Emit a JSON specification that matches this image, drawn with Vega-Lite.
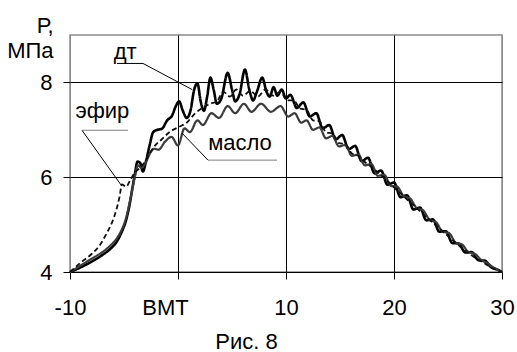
{
  "$schema": "https://vega.github.io/schema/vega-lite/v6.json",
  "width": 432,
  "height": 237,
  "autosize": "none",
  "padding": {"left": 70, "top": 35, "right": 15, "bottom": 80},
  "background": "white",
  "config": {
    "font": "Liberation Sans",
    "view": {"stroke": "#8c8c8c", "strokeWidth": 1.5},
    "axis": {"labelColor": "black", "titleColor": "black", "tickColor": "black", "gridColor": "black", "gridWidth": 1, "domain": false, "labelFontSize": 22, "titleFontSize": 22, "titleFontWeight": "normal", "tickSize": 7}
  },
  "datasets": {
    "curves": [
      {"s":"дт","x":-10,"y":4.0},{"s":"дт","x":-9,"y":4.1},{"s":"дт","x":-8,"y":4.22},{"s":"дт","x":-7,"y":4.36},{"s":"дт","x":-6.3,"y":4.48},{"s":"дт","x":-5.7,"y":4.63},{"s":"дт","x":-5.2,"y":4.85},{"s":"дт","x":-4.8,"y":5.1},{"s":"дт","x":-4.5,"y":5.4},{"s":"дт","x":-4.25,"y":5.73},{"s":"дт","x":-4.0,"y":6.05},{"s":"дт","x":-3.75,"y":6.33},{"s":"дт","x":-3.5,"y":6.3},{"s":"дт","x":-3.25,"y":6.12},{"s":"дт","x":-2.95,"y":6.35},{"s":"дт","x":-2.6,"y":6.7},{"s":"дт","x":-2.3,"y":6.95},{"s":"дт","x":-1.9,"y":7.0},{"s":"дт","x":-1.5,"y":7.02},{"s":"дт","x":-1.0,"y":7.2},{"s":"дт","x":-0.55,"y":7.3},{"s":"дт","x":-0.2,"y":7.5},{"s":"дт","x":0.1,"y":7.6},{"s":"дт","x":0.45,"y":7.4},{"s":"дт","x":0.8,"y":7.25},{"s":"дт","x":1.15,"y":7.4},{"s":"дт","x":1.5,"y":7.85},{"s":"дт","x":1.8,"y":7.98},{"s":"дт","x":2.1,"y":7.6},{"s":"дт","x":2.4,"y":7.4},{"s":"дт","x":2.7,"y":7.7},{"s":"дт","x":3.0,"y":8.1},{"s":"дт","x":3.3,"y":7.85},{"s":"дт","x":3.6,"y":7.55},{"s":"дт","x":4.0,"y":7.65},{"s":"дт","x":4.6,"y":8.2},{"s":"дт","x":5.0,"y":7.85},{"s":"дт","x":5.3,"y":7.6},{"s":"дт","x":5.7,"y":7.75},{"s":"дт","x":6.2,"y":8.27},{"s":"дт","x":6.6,"y":7.85},{"s":"дт","x":6.95,"y":7.62},{"s":"дт","x":7.3,"y":7.8},{"s":"дт","x":7.8,"y":8.1},{"s":"дт","x":8.2,"y":7.8},{"s":"дт","x":8.5,"y":7.7},{"s":"дт","x":8.85,"y":7.9},{"s":"дт","x":9.2,"y":7.72},{"s":"дт","x":9.6,"y":7.85},{"s":"дт","x":10.0,"y":7.66},{"s":"дт","x":10.4,"y":7.74},{"s":"дт","x":11.0,"y":7.46},{"s":"дт","x":11.6,"y":7.58},{"s":"дт","x":12.2,"y":7.28},{"s":"дт","x":12.8,"y":7.35},{"s":"дт","x":13.4,"y":7.03},{"s":"дт","x":14.0,"y":7.1},{"s":"дт","x":14.6,"y":6.8},{"s":"дт","x":15.2,"y":6.89},{"s":"дт","x":15.8,"y":6.59},{"s":"дт","x":16.4,"y":6.66},{"s":"дт","x":17.0,"y":6.34},{"s":"дт","x":17.6,"y":6.41},{"s":"дт","x":18.2,"y":6.08},{"s":"дт","x":18.8,"y":6.14},{"s":"дт","x":19.4,"y":5.84},{"s":"дт","x":20.0,"y":5.89},{"s":"дт","x":20.6,"y":5.58},{"s":"дт","x":21.2,"y":5.62},{"s":"дт","x":21.8,"y":5.32},{"s":"дт","x":22.4,"y":5.36},{"s":"дт","x":23.0,"y":5.09},{"s":"дт","x":23.6,"y":5.11},{"s":"дт","x":24.2,"y":4.85},{"s":"дт","x":24.8,"y":4.86},{"s":"дт","x":25.4,"y":4.61},{"s":"дт","x":26.0,"y":4.6},{"s":"дт","x":26.6,"y":4.41},{"s":"дт","x":27.2,"y":4.42},{"s":"дт","x":27.8,"y":4.25},{"s":"дт","x":28.4,"y":4.24},{"s":"дт","x":29.0,"y":4.1},{"s":"дт","x":29.6,"y":4.05},{"s":"дт","x":30.0,"y":4.0},

      {"s":"масло","x":-10,"y":4.0},{"s":"масло","x":-9,"y":4.14},{"s":"масло","x":-8,"y":4.28},{"s":"масло","x":-7,"y":4.42},{"s":"масло","x":-6.3,"y":4.55},{"s":"масло","x":-5.7,"y":4.7},{"s":"масло","x":-5.2,"y":4.9},{"s":"масло","x":-4.8,"y":5.15},{"s":"масло","x":-4.4,"y":5.55},{"s":"масло","x":-4.0,"y":6.0},{"s":"масло","x":-3.7,"y":6.25},{"s":"масло","x":-3.4,"y":6.2},{"s":"масло","x":-3.0,"y":6.3},{"s":"масло","x":-2.6,"y":6.5},{"s":"масло","x":-2.2,"y":6.6},{"s":"масло","x":-1.8,"y":6.58},{"s":"масло","x":-1.2,"y":6.75},{"s":"масло","x":-0.6,"y":6.85},{"s":"масло","x":0.0,"y":6.67},{"s":"масло","x":0.6,"y":7.03},{"s":"масло","x":1.1,"y":6.95},{"s":"масло","x":1.8,"y":7.2},{"s":"масло","x":2.3,"y":7.1},{"s":"масло","x":3.1,"y":7.35},{"s":"масло","x":3.8,"y":7.25},{"s":"масло","x":4.6,"y":7.5},{"s":"масло","x":5.3,"y":7.35},{"s":"масло","x":6.1,"y":7.55},{"s":"масло","x":6.8,"y":7.38},{"s":"масло","x":7.7,"y":7.55},{"s":"масло","x":8.6,"y":7.38},{"s":"масло","x":9.5,"y":7.5},{"s":"масло","x":10.2,"y":7.28},{"s":"масло","x":10.8,"y":7.35},{"s":"масло","x":11.4,"y":7.15},{"s":"масло","x":11.9,"y":7.2},{"s":"масло","x":12.5,"y":7.0},{"s":"масло","x":13.1,"y":7.05},{"s":"масло","x":13.7,"y":6.82},{"s":"масло","x":14.3,"y":6.87},{"s":"масло","x":14.9,"y":6.65},{"s":"масло","x":15.5,"y":6.68},{"s":"масло","x":16.1,"y":6.45},{"s":"масло","x":16.7,"y":6.48},{"s":"масло","x":17.3,"y":6.25},{"s":"масло","x":17.9,"y":6.28},{"s":"масло","x":18.5,"y":6.03},{"s":"масло","x":19.1,"y":6.05},{"s":"масло","x":19.7,"y":5.82},{"s":"масло","x":20.3,"y":5.8},{"s":"масло","x":20.9,"y":5.6},{"s":"масло","x":21.5,"y":5.55},{"s":"масло","x":22.1,"y":5.35},{"s":"масло","x":22.7,"y":5.3},{"s":"масло","x":23.3,"y":5.1},{"s":"масло","x":23.9,"y":5.05},{"s":"масло","x":24.5,"y":4.85},{"s":"масло","x":25.1,"y":4.82},{"s":"масло","x":25.7,"y":4.62},{"s":"масло","x":26.3,"y":4.58},{"s":"масло","x":26.9,"y":4.42},{"s":"масло","x":27.5,"y":4.38},{"s":"масло","x":28.1,"y":4.25},{"s":"масло","x":28.7,"y":4.18},{"s":"масло","x":29.3,"y":4.08},{"s":"масло","x":30,"y":4.0},

      {"s":"эфир","x":-10,"y":4.0},{"s":"эфир","x":-9,"y":4.2},{"s":"эфир","x":-8,"y":4.38},{"s":"эфир","x":-7.2,"y":4.58},{"s":"эфир","x":-6.6,"y":4.82},{"s":"эфир","x":-6.1,"y":5.05},{"s":"эфир","x":-5.7,"y":5.32},{"s":"эфир","x":-5.4,"y":5.6},{"s":"эфир","x":-5.2,"y":5.85},{"s":"эфир","x":-4.8,"y":5.8},{"s":"эфир","x":-4.4,"y":5.95},{"s":"эфир","x":-4.0,"y":6.1},{"s":"эфир","x":-3.5,"y":6.2},{"s":"эфир","x":-3.0,"y":6.35},{"s":"эфир","x":-2.5,"y":6.55},{"s":"эфир","x":-2.0,"y":6.7},{"s":"эфир","x":-1.5,"y":6.8},{"s":"эфир","x":-0.8,"y":6.95},{"s":"эфир","x":0.0,"y":7.05},{"s":"эфир","x":0.8,"y":7.15},{"s":"эфир","x":1.6,"y":7.35},{"s":"эфир","x":2.3,"y":7.47},{"s":"эфир","x":3.0,"y":7.55},{"s":"эфир","x":3.6,"y":7.6},{"s":"эфир","x":4.2,"y":7.8},{"s":"эфир","x":4.8,"y":7.7},{"s":"эфир","x":5.4,"y":7.85},{"s":"эфир","x":6.0,"y":7.72},{"s":"эфир","x":6.7,"y":7.82},{"s":"эфир","x":7.4,"y":7.7},{"s":"эфир","x":8.1,"y":7.85},{"s":"эфир","x":8.8,"y":7.72},{"s":"эфир","x":9.5,"y":7.8},{"s":"эфир","x":10.1,"y":7.62},{"s":"эфир","x":10.7,"y":7.62},{"s":"эфир","x":11.3,"y":7.45},{"s":"эфир","x":11.9,"y":7.42},{"s":"эфир","x":12.5,"y":7.2},{"s":"эфир","x":13.1,"y":7.18},{"s":"эфир","x":13.7,"y":6.95},{"s":"эфир","x":14.3,"y":6.92},{"s":"эфир","x":14.9,"y":6.72},{"s":"эфир","x":15.5,"y":6.7},{"s":"эфир","x":16.1,"y":6.5},{"s":"эфир","x":16.7,"y":6.45},{"s":"эфир","x":17.3,"y":6.32},{"s":"эфир","x":17.9,"y":6.22},{"s":"эфир","x":18.5,"y":6.1},{"s":"эфир","x":19.1,"y":5.98},{"s":"эфир","x":19.7,"y":5.85},{"s":"эфир","x":20.3,"y":5.72},{"s":"эфир","x":20.9,"y":5.6},{"s":"эфир","x":21.5,"y":5.47},{"s":"эфир","x":22.1,"y":5.35},{"s":"эфир","x":22.7,"y":5.22},{"s":"эфир","x":23.3,"y":5.1},{"s":"эфир","x":23.9,"y":4.98},{"s":"эфир","x":24.5,"y":4.86},{"s":"эфир","x":25.1,"y":4.74},{"s":"эфир","x":25.7,"y":4.62},{"s":"эфир","x":26.3,"y":4.5},{"s":"эфир","x":26.9,"y":4.4},{"s":"эфир","x":27.5,"y":4.3},{"s":"эфир","x":28.1,"y":4.22},{"s":"эфир","x":28.7,"y":4.14},{"s":"эфир","x":29.3,"y":4.06},{"s":"эфир","x":30,"y":4.0}
    ],
    "ann": [
      {"x":-5.65,"y":8.4,"x2":-3.24,"y2":8.4,"c":"black"},
      {"x":-3.24,"y":8.4,"x2":1.3,"y2":7.85,"c":"black"},
      {"x":-8.89,"y":6.99,"x2":-4.63,"y2":6.99,"c":"#808080"},
      {"x":-8.89,"y":6.99,"x2":-5.19,"y2":5.81,"c":"black"},
      {"x":2.78,"y":6.36,"x2":9.17,"y2":6.36,"c":"#808080"},
      {"x":2.78,"y":6.36,"x2":0.37,"y2":6.93,"c":"black"}
    ],
    "labels": [
      {"t":"дт","x":-4.9,"y":8.5},
      {"t":"эфир","x":-7.0,"y":7.24},
      {"t":"масло","x":5.74,"y":6.57}
    ]
  },
  "layer": [
    {
      "data": {"name": "curves"},
      "mark": {"type": "line", "interpolate": "monotone"},
      "encoding": {
        "x": {"field": "x", "type": "quantitative",
              "scale": {"domain": [-10, 30], "nice": false},
              "axis": {"values": [-10, 0, 10, 20, 30], "grid": true,
                       "labelExpr": "datum.value == 0 ? 'ВМТ' : (datum.value == -10 ? '-10' : datum.label)",
                       "labelOffset": {"condition": {"test": "datum.value == 0", "value": -13}, "value": 0},
                       "labelPadding": 18, "labelFlush": false,
                       "gridColor": {"condition": {"test": "datum.value == -10 || datum.value == 30", "value": "#8c8c8c"}, "value": "black"},
                       "title": "Рис. 8", "titleX": 176, "titleY": 76, "titleAlign": "center", "titleBaseline": "alphabetic"}},
        "y": {"field": "y", "type": "quantitative",
              "scale": {"domain": [4, 9], "nice": false, "zero": false},
              "axis": {"values": [4, 6, 8], "grid": true, "labelPadding": 11,
                       "title": ["Р,", "МПа"], "titleAngle": 0, "titleAlign": "right", "titleBaseline": "alphabetic",
                       "titleX": -17, "titleY": -3, "titleLineHeight": 25}},
        "detail": {"field": "s"},
        "color": {"field": "s", "type": "nominal", "scale": {"domain": ["дт", "масло", "эфир"], "range": ["#000000", "#3c3c3c", "#111111"]}, "legend": null},
        "strokeWidth": {"field": "s", "type": "nominal", "scale": {"domain": ["дт", "масло", "эфир"], "range": [2.6, 1.8, 2.2]}, "legend": null},
        "strokeDash": {"field": "s", "type": "nominal", "scale": {"domain": ["дт", "масло", "эфир"], "range": [[1, 0], [1, 0], [5, 3]]}, "legend": null}
      }
    },
    {
      "data": {"name": "ann"},
      "mark": {"type": "rule", "strokeWidth": 1},
      "encoding": {
        "x": {"field": "x", "type": "quantitative"},
        "y": {"field": "y", "type": "quantitative"},
        "x2": {"field": "x2"},
        "y2": {"field": "y2"},
        "color": {"field": "c", "type": "nominal", "scale": null}
      }
    },
    {
      "data": {"name": "labels"},
      "mark": {"type": "text", "fontSize": 22, "align": "center", "baseline": "alphabetic", "color": "black"},
      "encoding": {
        "x": {"field": "x", "type": "quantitative"},
        "y": {"field": "y", "type": "quantitative"},
        "text": {"field": "t"}
      }
    }
  ]
}
